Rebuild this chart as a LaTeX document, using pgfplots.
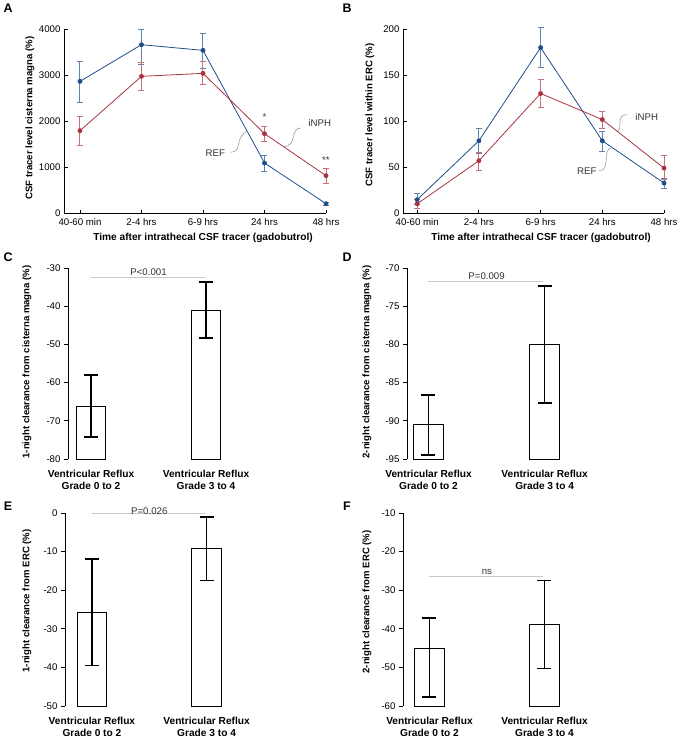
\documentclass[border=0pt]{standalone}
\usepackage{fontspec}
\setmainfont{Liberation Sans}
\usepackage{pgfplots}
\usepackage{pgfplotstable}
\pgfplotsset{compat=1.18}

\definecolor{refblue}{HTML}{1F4E8A}
\definecolor{refblueerr}{HTML}{5F84B2}
\definecolor{inphred}{HTML}{A8343F}
\definecolor{inphrederr}{HTML}{C6707A}
\definecolor{leader}{HTML}{9A9A9A}
\definecolor{sigline}{HTML}{C8C8C8}

% x: 0=40-60 min, 1=2-4 hrs, 2=6-9 hrs, 3=24 hrs, 4=48 hrs
\pgfplotstableread{
x y ep em
0 2862 435 449
1 3659 341 429
2 3536 377 384
3 1087 167 181
4 203 30 30
}\cmref
\pgfplotstableread{
x y ep em
0 1790 311 319
1 2971 304 304
2 3036 261 253
3 1725 159 160
4 812 166 174
}\cminph
\pgfplotstableread{
x y ep em
0 14.5 6.5 5.5
1 78.5 13.7 13.5
2 179.8 21.7 21.8
3 78.5 10.1 11.5
4 32.5 5.5 6.1
}\ercref
\pgfplotstableread{
x y ep em
0 10 5 4.6
1 56.8 9 10.5
2 129.9 15.5 15.2
3 101.6 8.7 9.4
4 48.8 13.4 12.6
}\ercinph

\newcommand{\tickfont}{\fontsize{9.7}{11}\selectfont}
\newcommand{\labfont}{\bfseries\fontsize{10.2}{12}\selectfont}
\newcommand{\ylabfont}{\bfseries\fontsize{9.6}{11}\selectfont}
\newcommand{\letfont}{\bfseries\fontsize{12.5}{14}\selectfont}

\pgfplotsset{
  lineplot/.style={
    scale only axis, anchor=south west,
    axis lines*=left, tick align=inside,
    major tick length=3.5bp,
    axis line style={line width=0.9bp},
    tick style={line width=0.9bp, black},
    tick label style={font=\tickfont},
    xticklabel style={yshift=-1.5bp},
    /pgf/number format/assume math mode=true,
    /pgf/number format/1000 sep={},
    xtick={0,1,2,3,4},
    xticklabels={40-60 min, 2-4 hrs, 6-9 hrs, 24 hrs, 48 hrs},
    xmax=4, clip=false,
  },
  refline/.style={refblue, line width=0.8bp, mark=*, mark size=2bp,
    mark options={fill=refblue, draw=refblue},
    error bars/.cd, y dir=both, y explicit,
    error bar style={refblueerr, line width=1bp},
    error mark options={rotate=90, refblueerr, mark size=3bp, line width=1bp}},
  inphline/.style={inphred, line width=0.8bp, mark=*, mark size=2bp,
    mark options={fill=inphred, draw=inphred},
    error bars/.cd, y dir=both, y explicit,
    error bar style={inphrederr, line width=1bp},
    error mark options={rotate=90, inphrederr, mark size=3bp, line width=1bp}},
  barplot/.style={
    scale only axis, anchor=south west,
    axis y line*=left, axis x line*=bottom,
    x axis line style={draw=none},
    xtick={1,2}, xtick style={draw=none},
    xticklabels={{Ventricular Reflux\\Grade 0 to 2},{Ventricular Reflux\\Grade 3 to 4}},
    xticklabel style={align=center, font=\labfont, yshift=-4bp},
    tick align=outside, major tick length=4bp,
    axis line style={line width=0.9bp},
    ytick style={line width=0.9bp, black},
    yticklabel style={font=\tickfont},
    /pgf/number format/assume math mode=true,
    xmax=2.3, clip=false,
  },
  bar/.style={draw=black, fill=white, line width=1bp},
  errbar/.style={draw=none, mark=none,
    error bars/.cd, y dir=both, y explicit,
    error bar style={draw=black, line width=1.5bp},
    error mark options={rotate=90, draw=black, mark size=7bp, line width=1.8bp}},
}

\begin{document}
\begin{tikzpicture}
\path[use as bounding box] (0,0) rectangle (680bp,-739bp);

% ---------- A ----------
\begin{axis}[lineplot, at={(64bp,-213bp)}, width=262bp, height=184bp,
  xmin=-0.26, ymin=0, ymax=4000, ytick={0,1000,2000,3000,4000}]
\addplot[refline] table[x=x, y=y, y error plus=ep, y error minus=em] {\cmref};
\addplot[inphline] table[x=x, y=y, y error plus=ep, y error minus=em] {\cminph};
\node[font=\tickfont, text=black!80] at (axis cs:3,2080) {*};
\node[font=\tickfont, text=black!80] at (axis cs:4,1140) {**};
\node[font=\tickfont, text=black!80] at (axis cs:3.9,1957) {iNPH};
\node[font=\tickfont, text=black!80] at (axis cs:2.2,1304) {REF};
\draw[leader, line width=0.6bp] (axis cs:2.45,1320) .. controls (axis cs:2.65,1330) and (axis cs:2.5,1620) .. (axis cs:2.72,1783);
\draw[leader, line width=0.6bp] (axis cs:3.6,1850) .. controls (axis cs:3.4,1850) and (axis cs:3.55,1450) .. (axis cs:3.3,1440);
\end{axis}
\node[rotate=90, font=\ylabfont] at (30bp,-118bp) {CSF tracer level cisterna magna (\%)};
\node[font=\labfont] at (203bp,-238bp) {Time after intrathecal CSF tracer (gadobutrol)};
\node[font=\letfont] at (8bp,-8bp) {A};

% ---------- B ----------
\begin{axis}[lineplot, at={(403bp,-213bp)}, width=261bp, height=184bp,
  xmin=-0.23, ymin=0, ymax=200, ytick={0,50,100,150,200}]
\addplot[refline] table[x=x, y=y, y error plus=ep, y error minus=em] {\ercref};
\addplot[inphline] table[x=x, y=y, y error plus=ep, y error minus=em] {\ercinph};
\node[font=\tickfont, text=black!80] at (axis cs:3.72,104) {iNPH};
\node[font=\tickfont, text=black!80] at (axis cs:2.75,45.6) {REF};
\draw[leader, line width=0.6bp] (axis cs:3.4,107) .. controls (axis cs:3.2,107) and (axis cs:3.35,89) .. (axis cs:3.23,89);
\draw[leader, line width=0.6bp] (axis cs:2.95,46) .. controls (axis cs:3.15,46) and (axis cs:2.98,70) .. (axis cs:3.16,71);
\end{axis}
\node[rotate=90, font=\ylabfont] at (370bp,-115bp) {CSF tracer level within ERC (\%)};
\node[font=\labfont] at (541bp,-238bp) {Time after intrathecal CSF tracer (gadobutrol)};
\node[font=\letfont] at (347bp,-8bp) {B};

% ---------- C ----------
\begin{axis}[barplot, at={(68bp,-459bp)}, width=172.5bp, height=191bp,
  xmin=0.8, ymin=-80, ymax=-30, ytick={-80,-70,-60,-50,-40,-30}]
\addplot[bar] coordinates {(0.87,-80) (0.87,-66.3) (1.13,-66.3) (1.13,-80)} -- cycle;
\addplot[bar] coordinates {(1.87,-80) (1.87,-41.0) (2.13,-41.0) (2.13,-80)} -- cycle;
\addplot[errbar] coordinates {(1,-66.3) += (0,8.2) -= (0,7.9)};
\addplot[errbar] coordinates {(2,-41.0) += (0,7.3) -= (0,7.3)};
\draw[sigline, line width=0.7bp] (axis cs:1,-32.4) -- (axis cs:1.99,-32.4);
\node[font=\tickfont, text=black!80, anchor=south, inner sep=1bp] at (axis cs:1.5,-32.4) {P<0.001};
\end{axis}
\node[rotate=90, font=\ylabfont] at (27bp,-362bp) {1-night clearance from cisterna magna (\%)};
\node[font=\letfont] at (8bp,-257bp) {C};

% ---------- D ----------
\begin{axis}[barplot, at={(407bp,-459bp)}, width=172.5bp, height=191bp,
  xmin=0.815, ymin=-95, ymax=-70, ytick={-95,-90,-85,-80,-75,-70}]
\addplot[bar] coordinates {(0.87,-95) (0.87,-90.5) (1.13,-90.5) (1.13,-95)} -- cycle;
\addplot[bar] coordinates {(1.87,-95) (1.87,-80.0) (2.13,-80.0) (2.13,-95)} -- cycle;
\addplot[errbar] coordinates {(1,-90.5) += (0,3.9) -= (0,4.0)};
\addplot[errbar] coordinates {(2,-80.0) += (0,7.6) -= (0,7.7)};
\draw[sigline, line width=0.7bp] (axis cs:1,-71.7) -- (axis cs:1.99,-71.7);
\node[font=\tickfont, text=black!80, anchor=south, inner sep=1bp] at (axis cs:1.5,-71.7) {P=0.009};
\end{axis}
\node[rotate=90, font=\ylabfont] at (367bp,-362bp) {2-night clearance from cisterna magna (\%)};
\node[font=\letfont] at (347bp,-257bp) {D};

% ---------- E ----------
\begin{axis}[barplot, at={(65bp,-706bp)}, width=176bp, height=193bp,
  xmin=0.765, ymin=-50, ymax=0, ytick={-50,-40,-30,-20,-10,0}]
\addplot[bar] coordinates {(0.87,-50) (0.87,-25.7) (1.13,-25.7) (1.13,-50)} -- cycle;
\addplot[bar] coordinates {(1.87,-50) (1.87,-9.3) (2.13,-9.3) (2.13,-50)} -- cycle;
\addplot[errbar] coordinates {(1,-25.7) += (0,13.7) -= (0,13.8)};
\addplot[errbar] coordinates {(2,-9.3) += (0,8.3) -= (0,8.2)};
\draw[sigline, line width=0.7bp] (axis cs:1,0) -- (axis cs:1.99,0);
\node[font=\tickfont, text=black!80, anchor=south, inner sep=1bp] at (axis cs:1.5,-0.6) {P=0.026};
\end{axis}
\node[rotate=90, font=\ylabfont] at (27bp,-601bp) {1-night clearance from ERC (\%)};
\node[font=\letfont] at (8bp,-506bp) {E};

% ---------- F ----------
\begin{axis}[barplot, at={(403bp,-706bp)}, width=176bp, height=193bp,
  xmin=0.77, ymin=-60, ymax=-10, ytick={-60,-50,-40,-30,-20,-10}]
\addplot[bar] coordinates {(0.87,-60) (0.87,-45.0) (1.13,-45.0) (1.13,-60)} -- cycle;
\addplot[bar] coordinates {(1.87,-60) (1.87,-38.9) (2.13,-38.9) (2.13,-60)} -- cycle;
\addplot[errbar] coordinates {(1,-45.0) += (0,7.9) -= (0,12.7)};
\addplot[errbar] coordinates {(2,-38.9) += (0,11.4) -= (0,11.4)};
\draw[sigline, line width=0.7bp] (axis cs:1,-26.3) -- (axis cs:1.99,-26.3);
\node[font=\tickfont, text=black!80, anchor=south, inner sep=1bp] at (axis cs:1.5,-26.3) {ns};
\end{axis}
\node[rotate=90, font=\ylabfont] at (367bp,-602bp) {2-night clearance from ERC (\%)};
\node[font=\letfont] at (347bp,-506bp) {F};
\end{tikzpicture}
\end{document}
